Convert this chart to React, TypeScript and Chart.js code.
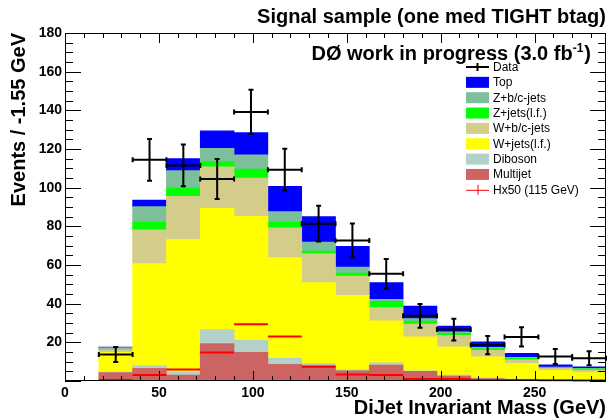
import React, { useEffect, useRef } from "react";
import { Chart, registerables } from "chart.js";

Chart.register(...registerables);

// ---- data (GeV bins of 18 GeV) ----
const binCenters = [27, 45, 63, 81, 99, 117, 135, 153, 171, 189, 207, 225, 243, 261, 279];
const binHalfWidth = 9;

const multijet = [4.3, 6.5, 3.1, 19.4, 14.8, 8.6, 8.0, 5.3, 8.2, 5.0, 2.5, 1.0, 0.8, 0.5, 0.5];
const diboson = [0.3, 1.4, 1.7, 7.2, 6.3, 3.1, 1.0, 0.5, 1.2, 0.3, 0.6, 0.5, 0.2, 0.2, 0.1];
const wJetsLF = [10.2, 52.8, 68.4, 62.7, 64.1, 52.1, 41.9, 38.5, 21.7, 17.5, 14.6, 11.0, 8.1, 4.8, 3.8];
const wBCJets = [1.3, 17.5, 22.3, 21.5, 19.8, 15.4, 14.9, 10.0, 6.9, 6.6, 5.9, 3.3, 1.9, 1.0, 1.2];
const zJetsLF = [0.2, 3.9, 4.3, 2.6, 4.6, 2.9, 1.4, 1.5, 3.2, 1.6, 1.0, 1.0, 0.7, 0.4, 0.7];
const zBCJets = [1.0, 8.1, 9.0, 6.9, 7.4, 5.5, 4.6, 3.1, 1.1, 1.3, 0.8, 0.6, 0.5, 0.3, 0.3];
const topQuark = [0.2, 3.4, 6.3, 9.1, 11.5, 13.1, 13.2, 10.7, 8.6, 6.4, 3.0, 2.9, 2.1, 1.2, 0.7];

const dataValues = [13.7, 114.4, 111.5, 104.5, 139.2, 109.3, 81.4, 72.7, 55.5, 33.7, 26.6, 18.6, 22.8, 12.7, 11.8];
const dataErrors = [3.9, 10.8, 10.8, 10.3, 11.5, 10.8, 9.3, 8.8, 7.6, 6.1, 5.6, 4.7, 5.0, 3.9, 3.6];

const hx50 = [0.5, 3.1, 6.0, 14.8, 29.4, 23.0, 7.4, 3.4, 3.1, 1.0, 1.0, 0.6, 0.5, 0.4, 0.3];

const xTickValues = [0, 50, 100, 150, 200, 250];
const yTickValues = [20, 40, 60, 80, 100, 120, 140, 160, 180];

const titleText = "Signal sample (one med TIGHT btag)";
const xTitle = "DiJet Invariant Mass (GeV)";
const yTitle = "Events / -1.55 GeV";
const labelMain = "DØ work in progress (3.0 fb";
const labelSup = "-1";
const labelEnd = ")";

const bgLabels = ["Multijet", "Diboson", "W+jets(l.f.)", "W+b/c-jets", "Z+jets(l.f.)", "Z+b/c-jets", "Top"];
const bgSeries = [multijet, diboson, wJetsLF, wBCJets, zJetsLF, zBCJets, topQuark];
const bgColors = ["#cc6464", "#b3d1c9", "#ffff00", "#d4cd8a", "#00ff00", "#7dbe9b", "#0000ff"];

const legendOrder = ["Data", "Top", "Z+b/c-jets", "Z+jets(l.f.)", "W+b/c-jets", "W+jets(l.f.)", "Diboson", "Multijet", "Hx50 (115 GeV)"];

const FONT = "'Liberation Sans', Arial, Helvetica, sans-serif";

const decorPlugin = {
  id: "rootDecor",
  afterDatasetsDraw(chart: any) {
    const { ctx, scales } = chart;
    const xs = scales.x;
    const ys = scales.y;
    ctx.save();
    // Hx50 lines
    ctx.strokeStyle = "#ff0000";
    ctx.lineWidth = 2;
    for (let i = 0; i < binCenters.length; i++) {
      const x0 = xs.getPixelForValue(binCenters[i] - binHalfWidth);
      const x1 = xs.getPixelForValue(binCenters[i] + binHalfWidth);
      const y = ys.getPixelForValue(hx50[i]);
      ctx.beginPath();
      ctx.moveTo(x0, y);
      ctx.lineTo(x1, y);
      ctx.stroke();
    }
    // Data points
    ctx.strokeStyle = "#000000";
    ctx.lineWidth = 2;
    const cap = 2.5;
    for (let i = 0; i < binCenters.length; i++) {
      const cx = xs.getPixelForValue(binCenters[i]);
      const x0 = xs.getPixelForValue(binCenters[i] - binHalfWidth);
      const x1 = xs.getPixelForValue(binCenters[i] + binHalfWidth);
      const y = ys.getPixelForValue(dataValues[i]);
      const yT = ys.getPixelForValue(dataValues[i] + dataErrors[i]);
      const yB = ys.getPixelForValue(dataValues[i] - dataErrors[i]);
      ctx.beginPath();
      ctx.moveTo(x0, y); ctx.lineTo(x1, y);
      ctx.moveTo(cx, yT); ctx.lineTo(cx, yB);
      ctx.moveTo(x0, y - cap); ctx.lineTo(x0, y + cap);
      ctx.moveTo(x1, y - cap); ctx.lineTo(x1, y + cap);
      ctx.moveTo(cx - cap, yT); ctx.lineTo(cx + cap, yT);
      ctx.moveTo(cx - cap, yB); ctx.lineTo(cx + cap, yB);
      ctx.stroke();
    }
    ctx.restore();
  },
  afterDraw(chart: any) {
    const { ctx, chartArea, scales } = chart;
    const xs = scales.x;
    const ys = scales.y;
    const { left, right, top, bottom } = chartArea;
    ctx.save();
    // frame
    ctx.strokeStyle = "#000000";
    ctx.lineWidth = 1;
    ctx.strokeRect(left + 0.5, top + 0.5, right - left - 1, bottom - top - 1);
    // x ticks (bottom and top)
    ctx.beginPath();
    for (let v = 0; v <= xs.max; v += 10) {
      const px = Math.round(xs.getPixelForValue(v)) + 0.5;
      const len = v % 50 === 0 ? 10 : 5;
      ctx.moveTo(px, bottom); ctx.lineTo(px, bottom - len);
      ctx.moveTo(px, top); ctx.lineTo(px, top + len);
    }
    // y ticks (left and right)
    for (let v = 0; v <= ys.max; v += 5) {
      const py = Math.round(ys.getPixelForValue(v)) + 0.5;
      const len = v % 20 === 0 ? 16 : 8;
      ctx.moveTo(left, py); ctx.lineTo(left + len, py);
      ctx.moveTo(right, py); ctx.lineTo(right - len, py);
    }
    ctx.stroke();

    // DØ label
    ctx.fillStyle = "#000000";
    ctx.textBaseline = "alphabetic";
    const bigFont = `bold 20px ${FONT}`;
    const supFont = `bold 12px ${FONT}`;
    ctx.font = bigFont;
    const wMain = ctx.measureText(labelMain).width;
    const wEnd = ctx.measureText(labelEnd).width;
    ctx.font = supFont;
    const wSup = ctx.measureText(labelSup).width;
    const rightEdge = right - 15;
    const baseY = top + 27;
    let xCur = rightEdge - (wMain + wSup + wEnd + 1);
    ctx.font = bigFont;
    ctx.textAlign = "left";
    ctx.fillText(labelMain, xCur, baseY);
    xCur += wMain;
    ctx.font = supFont;
    ctx.fillText(labelSup, xCur, baseY - 8);
    xCur += wSup + 1;
    ctx.font = bigFont;
    ctx.fillText(labelEnd, xCur, baseY);

    // Legend
    const lx0 = 466;
    const lx1 = 489;
    const tx = 493;
    const y0 = 67;
    const dy = 15.35;
    ctx.font = `12px ${FONT}`;
    ctx.textBaseline = "middle";
    legendOrder.forEach((name, k) => {
      const cy = y0 + k * dy;
      if (name === "Data") {
        ctx.strokeStyle = "#000000";
        ctx.lineWidth = 2;
        ctx.beginPath();
        ctx.moveTo(lx0, cy); ctx.lineTo(lx1, cy);
        ctx.moveTo((lx0 + lx1) / 2, cy - 4); ctx.lineTo((lx0 + lx1) / 2, cy + 4);
        ctx.stroke();
      } else if (name.startsWith("Hx50")) {
        ctx.strokeStyle = "#ff0000";
        ctx.lineWidth = 1;
        ctx.beginPath();
        ctx.moveTo(lx0, cy + 0.5); ctx.lineTo(lx1, cy + 0.5);
        ctx.moveTo((lx0 + lx1) / 2 + 0.5, cy - 5); ctx.lineTo((lx0 + lx1) / 2 + 0.5, cy + 5);
        ctx.stroke();
      } else {
        const idx = bgLabels.indexOf(name);
        ctx.fillStyle = bgColors[idx];
        ctx.fillRect(lx0, cy - 5.5, lx1 - lx0, 11);
      }
      ctx.fillStyle = "#000000";
      ctx.fillText(name, tx, cy + 0.5);
    });
    ctx.restore();
  },
};

export default function App() {
  const canvasRef = useRef<HTMLCanvasElement | null>(null);

  useEffect(() => {
    if (!canvasRef.current) return;
    const datasets = bgSeries.map((series, k) => ({
      label: bgLabels[k],
      data: series.map((v, i) => ({ x: binCenters[i], y: v })),
      backgroundColor: bgColors[k],
      borderWidth: 0,
      categoryPercentage: 1,
      barPercentage: 1,
    }));
    const chart = new Chart(canvasRef.current, {
      type: "bar",
      data: { datasets },
      options: {
        animation: false,
        responsive: false,
        devicePixelRatio: 1,
        layout: { padding: { left: 0, right: 1, top: 0, bottom: 0 } },
        plugins: {
          legend: { display: false },
          tooltip: { enabled: false },
          title: {
            display: true,
            text: titleText,
            align: "end",
            color: "#000000",
            font: { family: FONT, size: 20, weight: "bold", lineHeight: 1.2 },
            padding: { top: 5, bottom: 4 },
          },
        },
        scales: {
          x: {
            type: "linear",
            min: 0,
            max: 288,
            offset: false,
            stacked: true,
            grid: { display: false, drawTicks: false, offset: false },
            border: { display: false },
            afterBuildTicks: (scale: any) => {
              scale.ticks = xTickValues.map((v) => ({ value: v }));
            },
            afterFit: (scale: any) => {
              scale.height = 39;
            },
            ticks: {
              autoSkip: false,
              maxRotation: 0,
              padding: 4,
              color: "#000000",
              font: { family: FONT, size: 14, weight: "bold" },
            },
            title: {
              display: true,
              text: xTitle,
              align: "end",
              color: "#000000",
              font: { family: FONT, size: 20, weight: "bold", lineHeight: 1.2 },
              padding: { top: 0, bottom: 0 },
            },
          },
          y: {
            type: "linear",
            min: 0,
            max: 180,
            stacked: true,
            grid: { display: false, drawTicks: false },
            border: { display: false },
            afterBuildTicks: (scale: any) => {
              scale.ticks = yTickValues.map((v) => ({ value: v }));
            },
            afterFit: (scale: any) => {
              scale.width = 65;
            },
            ticks: {
              autoSkip: false,
              padding: 3,
              color: "#000000",
              font: { family: FONT, size: 14, weight: "bold" },
            },
            title: {
              display: true,
              text: yTitle,
              align: "end",
              color: "#000000",
              font: { family: FONT, size: 20, weight: "bold", lineHeight: 1.2 },
              padding: { top: 7, bottom: 0 },
            },
          },
        },
      },
      plugins: [decorPlugin],
    } as any);
    return () => chart.destroy();
  }, []);

  return (
    <div style={{ position: "absolute", left: 0, top: 0, width: 607, height: 420, background: "#ffffff" }}>
      <canvas ref={canvasRef} width={607} height={420} style={{ display: "block" }} />
    </div>
  );
}
